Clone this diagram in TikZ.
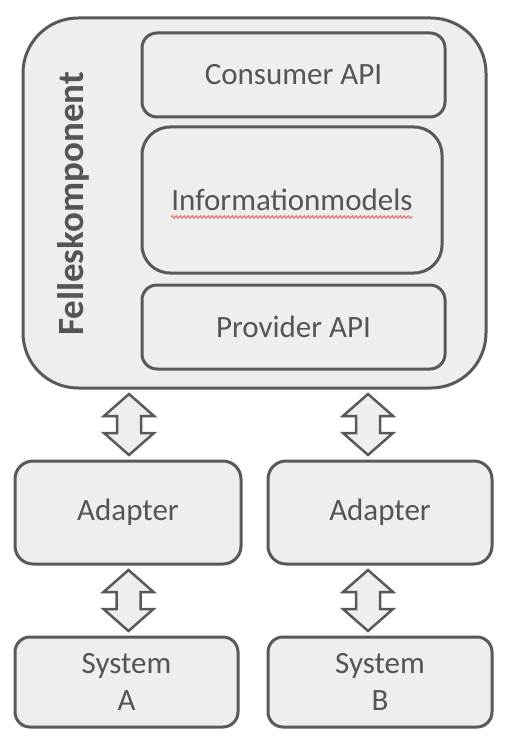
\documentclass[tikz,border=0pt]{standalone}
\usepackage{fontspec}
\setmainfont{Carlito}
\usetikzlibrary{calc,decorations.pathmorphing}
\definecolor{edge}{HTML}{595959}
\definecolor{boxfill}{HTML}{EEEEEE}
\definecolor{txt}{HTML}{555555}
\definecolor{squig}{HTML}{E05050}
\tikzset{
  box/.style={draw=edge, fill=boxfill, line width=3pt, rectangle, inner sep=0pt,
    text=txt, font=\fontsize{31}{37}\selectfont, align=center},
  blockarrow/.style={draw=edge, fill=boxfill, line width=2.5pt, line join=miter},
}
\newcommand{\dblarr}[2]{%
  \draw[blockarrow] (#1) -- ($(#1)+(25,22)$) -- ($(#1)+(12,22)$) -- ($(#2)+(12,-22)$)
    -- ($(#2)+(25,-22)$) -- (#2) -- ($(#2)+(-25,-22)$) -- ($(#2)+(-12,-22)$)
    -- ($(#1)+(-12,22)$) -- ($(#1)+(-25,22)$) -- cycle;}
\begin{document}
\begin{tikzpicture}[x=1pt,y=-1pt]
\useasboundingbox (0,0) rectangle (510,738);
% outer component
\node[box, rounded corners=55pt, minimum width=463pt, minimum height=370pt] (outer) at (254.5,203) {};
\node[rotate=90, text=txt, font=\fontsize{37}{44}\selectfont\bfseries] (fk) at (73,204) {Felleskomponent};
% inner boxes
\node[box, rounded corners=15pt, minimum width=303pt, minimum height=84pt] (cons) at (293.5,75) {Consumer API};
\node[box, rounded corners=28pt, minimum width=300pt, minimum height=146pt] (info) at (292,200) {};
\node[text=txt, font=\fontsize{31}{37}\selectfont, inner sep=0pt, anchor=base] (infot) at (292,210) {Informationmodels};
\draw[squig, line width=0.8pt, decorate, decoration={zigzag, segment length=4pt, amplitude=1.3pt}]
  ($(infot.base west)+(0,7)$) coordinate (sqa) -- ($(infot.base east)+(0,7)$) coordinate (sqb);
\node[box, rounded corners=15pt, minimum width=303pt, minimum height=84pt] (prov) at (293.5,327) {Provider API};
% adapters
\node[box, rounded corners=18pt, minimum width=226pt, minimum height=103pt] (adA) at (128,512.5) {Adapter};
\node[box, rounded corners=18pt, minimum width=224pt, minimum height=103pt] (adB) at (380,512.5) {Adapter};
% systems
\node[box, rounded corners=15pt, minimum width=223pt, minimum height=90pt] (sysA) at (126.5,682) {System\\A};
\node[box, rounded corners=15pt, minimum width=224pt, minimum height=90pt] (sysB) at (380,682) {System\\B};
% arrows
\coordinate (a1t) at (129,394); \coordinate (a1b) at (129,455);
\coordinate (a2t) at (368,394); \coordinate (a2b) at (368,455);
\coordinate (a3t) at (128.5,570); \coordinate (a3b) at (128.5,631);
\coordinate (a4t) at (368,570); \coordinate (a4b) at (368,631);
\dblarr{a1t}{a1b}
\dblarr{a2t}{a2b}
\dblarr{a3t}{a3b}
\dblarr{a4t}{a4b}
\end{tikzpicture}
\end{document}
